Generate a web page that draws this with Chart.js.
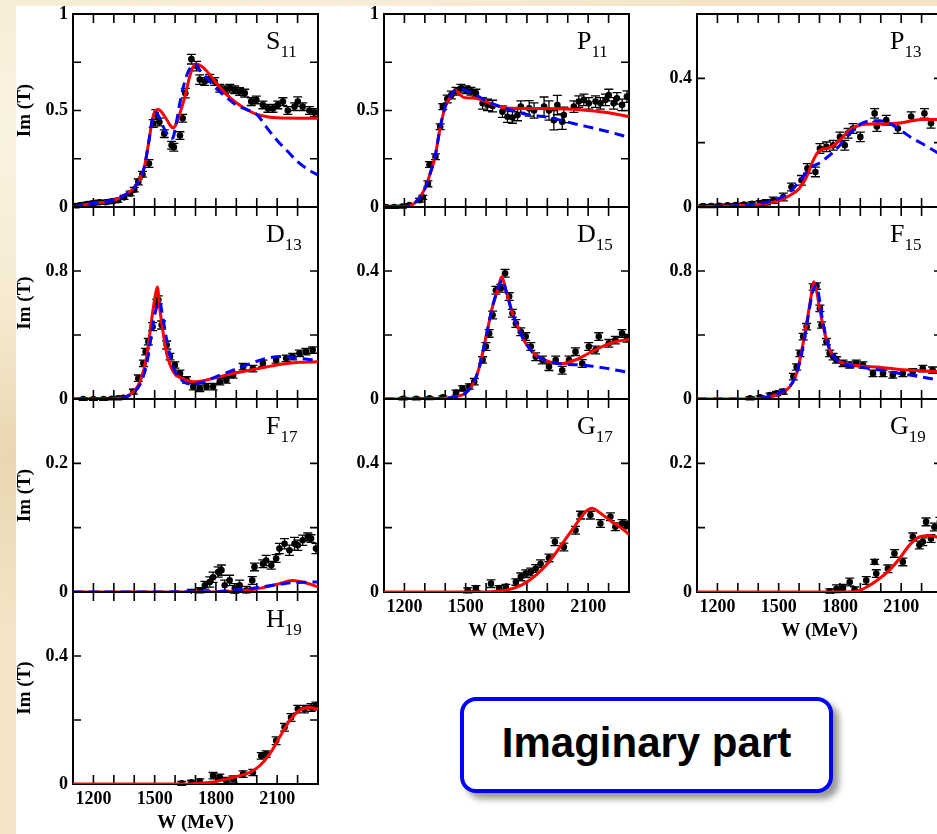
<!DOCTYPE html>
<html>
<head>
<meta charset="utf-8">
<script src="https://cdn.jsdelivr.net/npm/chart.js@4.4.1/dist/chart.umd.min.js"></script>
<style>
  html, body { margin: 0; padding: 0; }
  body {
    width: 937px; height: 834px; overflow: hidden; position: relative;
    background:
      radial-gradient(ellipse at 0% 15%, #fbf3e2 0, rgba(251,243,226,0) 30%),
      radial-gradient(ellipse at 2% 55%, #ead7b2 0, rgba(234,215,178,0) 25%),
      radial-gradient(ellipse at 40% 0%, #f8eddb 0, rgba(248,237,219,0) 40%),
      #f2e4c5;
  }
  #sheet { position: absolute; left: 16px; top: 6px; right: 0; bottom: 0; background: #fff; }
  canvas { position: absolute; }
  #tag {
    position: absolute; left: 460px; top: 697px; width: 373px; height: 96px;
    box-sizing: border-box; border: 4px solid #0000ff; border-radius: 16px;
    background: #fff; box-shadow: 6px 6px 6px rgba(0,0,0,0.4);
    display: flex; align-items: center; justify-content: center; padding-bottom: 5px;
    font: bold 42px "Liberation Sans", Arial, sans-serif; color: #000;
  }
</style>
</head>
<body>
<div id="sheet"></div>
<div id="tag">Imaginary part</div>
<script>
// ---- data (W in MeV, Im T) ----
const s11W = [1110,1140,1170,1200,1230,1260,1290,1320,1350,1380,1400,1420,1440,1472,1493,1506,1523,1547,1583,1594,1624,1637,1650,1680,1705,1721,1745,1770,1794,1819,1843,1868,1892,1916,1941,1973,1998,2030,2055,2079,2103,2128,2152,2185,2201,2225,2258,2282];
const s11V = [0.005,0.01,0.015,0.02,0.025,0.025,0.03,0.035,0.05,0.07,0.09,0.13,0.17,0.225,0.433,0.48,0.44,0.38,0.32,0.31,0.37,0.46,0.59,0.766,0.73,0.66,0.65,0.667,0.65,0.615,0.607,0.615,0.607,0.598,0.59,0.546,0.555,0.529,0.511,0.511,0.529,0.546,0.50,0.52,0.546,0.52,0.50,0.49];
const s11E = [0.01,0.01,0.01,0.01,0.01,0.01,0.01,0.01,0.01,0.012,0.012,0.015,0.015,0.02,0.02,0.025,0.02,0.02,0.02,0.02,0.02,0.02,0.025,0.025,0.025,0.025,0.02,0.02,0.02,0.02,0.02,0.02,0.02,0.02,0.02,0.02,0.02,0.02,0.02,0.02,0.02,0.02,0.02,0.02,0.025,0.02,0.02,0.02];
const s11RedW = [1100,1150,1200,1250,1300,1350,1400,1430,1450,1470,1490,1505,1518,1535,1555,1575,1590,1605,1625,1650,1670,1685,1700,1720,1750,1800,1850,1900,1950,2000,2050,2100,2200,2300];
const s11RedV = [0,0.01,0.02,0.025,0.035,0.06,0.10,0.15,0.21,0.33,0.46,0.50,0.505,0.49,0.46,0.425,0.41,0.43,0.49,0.58,0.67,0.72,0.74,0.735,0.71,0.645,0.585,0.54,0.505,0.48,0.468,0.462,0.46,0.46];
const s11BlueW = [1100,1150,1200,1250,1300,1350,1400,1430,1450,1470,1490,1505,1520,1540,1560,1580,1590,1605,1620,1640,1660,1680,1700,1720,1750,1800,1850,1900,1950,2000,2050,2100,2150,2200,2250,2300];
const s11BlueV = [0,0.01,0.02,0.025,0.035,0.06,0.10,0.15,0.21,0.33,0.46,0.49,0.47,0.42,0.38,0.355,0.36,0.43,0.52,0.62,0.69,0.73,0.74,0.71,0.675,0.615,0.57,0.528,0.505,0.48,0.41,0.345,0.29,0.235,0.195,0.165];

const p11W = [1110,1150,1190,1225,1274,1290,1315,1323,1352,1375,1388,1410,1430,1453,1477,1502,1526,1550,1583,1607,1632,1680,1705,1729,1754,1770,1811,1835,1884,1908,1932,1949,1973,1981,2030,2054,2079,2103,2136,2160,2185,2201,2225,2241,2266,2290];
const p11V = [0,0,0.002,0.01,0.035,0.05,0.12,0.22,0.26,0.416,0.52,0.56,0.58,0.60,0.615,0.607,0.60,0.59,0.537,0.529,0.523,0.494,0.468,0.464,0.477,0.52,0.511,0.50,0.52,0.50,0.45,0.528,0.442,0.477,0.52,0.546,0.555,0.537,0.546,0.537,0.555,0.58,0.537,0.563,0.529,0.572];
const p11E = [0.008,0.008,0.008,0.008,0.01,0.01,0.015,0.015,0.015,0.015,0.015,0.02,0.02,0.02,0.02,0.02,0.02,0.02,0.03,0.03,0.03,0.03,0.03,0.03,0.03,0.03,0.04,0.04,0.05,0.05,0.05,0.05,0.04,0.04,0.03,0.03,0.03,0.03,0.03,0.03,0.03,0.03,0.03,0.03,0.03,0.03];
const p11RedW = [1100,1200,1250,1300,1325,1350,1375,1400,1425,1450,1470,1490,1550,1600,1650,1700,1800,1900,2000,2100,2200,2300];
const p11RedV = [0,0,0.02,0.095,0.17,0.26,0.41,0.52,0.57,0.605,0.585,0.568,0.563,0.546,0.525,0.513,0.511,0.511,0.508,0.50,0.488,0.468];
const p11BlueW = [1100,1200,1250,1300,1325,1350,1375,1400,1425,1450,1480,1520,1560,1600,1700,1800,1900,2000,2100,2200,2300];
const p11BlueV = [0,0,0.02,0.095,0.17,0.26,0.41,0.52,0.575,0.605,0.61,0.595,0.575,0.55,0.51,0.48,0.465,0.44,0.415,0.39,0.36];

const p13W = [1130,1170,1210,1250,1290,1330,1370,1410,1440,1474,1523,1563,1612,1641,1680,1702,1734,1767,1800,1824,1840,1864,1900,1970,1981,2027,2084,2149,2214,2246];
const p13V = [0.003,0.003,0.004,0.005,0.006,0.008,0.01,0.012,0.015,0.021,0.031,0.062,0.083,0.12,0.109,0.182,0.187,0.192,0.218,0.192,0.229,0.244,0.218,0.291,0.25,0.27,0.244,0.281,0.291,0.26];
const p13E = [0.005,0.005,0.005,0.005,0.005,0.005,0.006,0.008,0.008,0.01,0.012,0.012,0.015,0.015,0.015,0.015,0.015,0.015,0.015,0.015,0.015,0.015,0.015,0.015,0.015,0.015,0.015,0.015,0.015,0.015];
const p13RedW = [1100,1200,1300,1400,1500,1555,1600,1637,1670,1700,1734,1767,1800,1848,1900,1960,2000,2100,2200,2300];
const p13RedV = [0,0.002,0.004,0.008,0.02,0.036,0.057,0.094,0.146,0.175,0.182,0.19,0.208,0.239,0.255,0.258,0.258,0.262,0.272,0.272];
const p13BlueW = [1100,1200,1300,1400,1500,1555,1600,1653,1700,1750,1800,1848,1900,1960,2000,2043,2100,2157,2200,2270,2300];
const p13BlueV = [0,0.002,0.004,0.01,0.026,0.047,0.078,0.12,0.137,0.161,0.192,0.229,0.258,0.268,0.268,0.26,0.237,0.213,0.198,0.172,0.16];

const d13W = [1150,1200,1250,1290,1320,1347,1396,1420,1445,1456,1469,1490,1510,1518,1534,1559,1575,1599,1624,1656,1689,1721,1754,1786,1819,1851,1884,1933,1981,2030,2095,2144,2176,2209,2241,2274];
const d13V = [0,0,0,0.002,0.005,0.008,0.046,0.13,0.223,0.296,0.358,0.452,0.598,0.62,0.4625,0.3375,0.265,0.2125,0.16,0.119,0.077,0.067,0.077,0.077,0.108,0.119,0.15,0.202,0.19,0.223,0.244,0.254,0.265,0.285,0.296,0.306];
const d13E = [0.008,0.008,0.008,0.008,0.01,0.01,0.015,0.02,0.02,0.02,0.02,0.025,0.025,0.025,0.025,0.025,0.02,0.02,0.02,0.02,0.02,0.02,0.02,0.02,0.02,0.02,0.02,0.02,0.02,0.02,0.02,0.02,0.02,0.02,0.02,0.02];
const d13RedW = [1100,1250,1300,1347,1396,1428,1461,1485,1502,1513,1526,1542,1559,1591,1632,1689,1754,1819,1884,1965,2046,2128,2209,2300];
const d13RedV = [0,0,0.002,0.008,0.046,0.108,0.265,0.494,0.64,0.70,0.556,0.41,0.285,0.17,0.129,0.108,0.119,0.14,0.16,0.18,0.20,0.219,0.229,0.233];
const d13BlueW = [1100,1250,1300,1347,1396,1428,1461,1485,1502,1523,1542,1559,1591,1632,1672,1721,1802,1884,1965,2046,2128,2209,2300];
const d13BlueV = [0,0,0.002,0.008,0.04,0.09,0.22,0.41,0.535,0.61,0.494,0.369,0.2,0.119,0.094,0.10,0.14,0.18,0.219,0.254,0.265,0.254,0.24];

const d15W = [1193,1258,1323,1388,1453,1485,1518,1542,1583,1599,1615,1632,1648,1672,1693,1713,1729,1746,1770,1794,1819,1843,1876,1908,1941,1973,2006,2038,2071,2103,2136,2152,2201,2233,2266,2290];
const d15V = [0.001,0.001,0.002,0.005,0.02,0.033,0.039,0.054,0.122,0.164,0.205,0.2625,0.34,0.346,0.393,0.32,0.268,0.236,0.21,0.195,0.164,0.132,0.122,0.101,0.122,0.09,0.122,0.148,0.111,0.164,0.153,0.195,0.174,0.184,0.205,0.19];
const d15E = [0.004,0.004,0.004,0.005,0.008,0.008,0.008,0.01,0.01,0.012,0.012,0.012,0.012,0.012,0.012,0.012,0.012,0.012,0.012,0.012,0.012,0.012,0.012,0.012,0.012,0.012,0.012,0.012,0.012,0.012,0.012,0.012,0.012,0.012,0.012,0.012];
const d15RedW = [1100,1300,1400,1453,1502,1534,1567,1600,1632,1656,1677,1697,1729,1762,1794,1843,1908,1973,2038,2103,2168,2233,2300];
const d15RedV = [0,0,0.002,0.007,0.02,0.044,0.10,0.195,0.29,0.34,0.382,0.34,0.268,0.216,0.174,0.1375,0.117,0.111,0.122,0.143,0.164,0.179,0.186];
const d15BlueW = [1100,1300,1400,1453,1502,1534,1567,1600,1632,1656,1680,1697,1729,1762,1794,1843,1908,1973,2071,2168,2300];
const d15BlueV = [0,0,0.002,0.007,0.02,0.044,0.10,0.195,0.29,0.34,0.372,0.34,0.268,0.216,0.174,0.1375,0.117,0.109,0.106,0.098,0.083];

const f15W = [1360,1409,1458,1490,1523,1572,1588,1604,1620,1637,1669,1685,1702,1710,1734,1750,1767,1783,1815,1848,1880,1913,1962,2011,2059,2108,2157,2206,2254];
const f15V = [0.005,0.01,0.025,0.035,0.046,0.14,0.2,0.285,0.39,0.452,0.70,0.706,0.567,0.4625,0.358,0.285,0.265,0.244,0.223,0.2125,0.223,0.2125,0.16,0.16,0.15,0.16,0.17,0.19,0.18];
const f15E = [0.01,0.01,0.012,0.012,0.015,0.02,0.02,0.02,0.02,0.02,0.02,0.02,0.02,0.02,0.02,0.02,0.02,0.02,0.02,0.02,0.02,0.02,0.02,0.02,0.02,0.02,0.02,0.02,0.02];
const f15RedW = [1100,1350,1441,1506,1555,1588,1620,1645,1661,1672,1685,1702,1726,1750,1783,1832,1897,1994,2092,2189,2300];
const f15RedV = [0,0,0.01,0.035,0.077,0.16,0.348,0.535,0.66,0.733,0.68,0.556,0.41,0.306,0.244,0.219,0.208,0.198,0.185,0.177,0.17];
const f15BlueW = [1100,1350,1441,1506,1555,1588,1620,1645,1665,1682,1695,1710,1730,1750,1783,1832,1897,1994,2092,2189,2300];
const f15BlueV = [0,0,0.012,0.04,0.08,0.16,0.33,0.52,0.66,0.71,0.66,0.53,0.40,0.31,0.245,0.215,0.2,0.181,0.16,0.14,0.115];

const f17W = [1680,1721,1746,1770,1786,1811,1827,1843,1867,1892,1916,1949,1978,1989,2030,2046,2071,2095,2111,2136,2160,2185,2201,2225,2250,2266,2290];
const f17V = [0,0.0026,0.0104,0.0156,0.023,0.031,0.034,0.0104,0.018,0.005,0.0104,0.0026,0.018,0.039,0.044,0.049,0.0416,0.052,0.0675,0.075,0.065,0.075,0.0727,0.0805,0.0857,0.083,0.0675];
const f17E = [0.004,0.004,0.006,0.008,0.008,0.008,0.008,0.008,0.008,0.008,0.008,0.006,0.006,0.006,0.006,0.008,0.006,0.006,0.008,0.008,0.008,0.01,0.008,0.008,0.006,0.006,0.008];
const f17RedW = [1100,1850,1884,1981,2046,2111,2176,2225,2300];
const f17RedV = [0,0,0.001,0.004,0.008,0.013,0.018,0.0156,0.008];
const f17BlueW = [1100,1802,1884,1981,2079,2176,2300];
const f17BlueV = [0,0.0005,0.0026,0.006,0.0104,0.0145,0.0156];

const g17W = [1510,1550,1624,1664,1697,1746,1770,1794,1819,1843,1867,1908,1937,1981,2038,2063,2111,2160,2209,2233,2266,2290];
const g17V = [0.005,0.012,0.026,0.012,0.016,0.031,0.047,0.057,0.062,0.073,0.088,0.106,0.156,0.14,0.192,0.239,0.239,0.213,0.234,0.2026,0.213,0.208];
const g17E = [0.008,0.008,0.012,0.008,0.008,0.01,0.012,0.012,0.012,0.012,0.012,0.012,0.012,0.012,0.012,0.012,0.012,0.012,0.012,0.012,0.012,0.012];
const g17RedW = [1100,1600,1648,1713,1778,1843,1908,1973,2038,2087,2120,2152,2217,2266,2300];
const g17RedV = [0,0,0.002,0.008,0.023,0.052,0.0935,0.15,0.208,0.249,0.26,0.249,0.218,0.197,0.179];

const g19W = [1750,1783,1815,1848,1872,1929,1970,1978,2035,2067,2108,2157,2189,2206,2222,2246,2263,2290];
const g19V = [0.001,0.005,0.006,0.0156,0.004,0.018,0.0468,0.0286,0.036,0.06,0.0468,0.0857,0.073,0.078,0.109,0.083,0.101,0.11];
const g19E = [0.004,0.006,0.006,0.006,0.004,0.006,0.004,0.006,0.006,0.006,0.006,0.006,0.006,0.006,0.006,0.006,0.006,0.006];
const g19RedW = [1100,1832,1897,1946,1994,2043,2092,2141,2189,2238,2270,2300];
const g19RedV = [0,0,0.0026,0.0104,0.021,0.034,0.052,0.073,0.0857,0.088,0.086,0.083];

const h19W = [1632,1680,1721,1786,1819,1851,1884,1933,1981,2022,2046,2095,2136,2168,2201,2233,2266,2290];
const h19V = [0.002,0.005,0.008,0.026,0.021,0.0104,0.0156,0.031,0.036,0.088,0.0935,0.135,0.177,0.208,0.234,0.234,0.239,0.244];
const h19E = [0.006,0.006,0.008,0.01,0.01,0.01,0.01,0.01,0.01,0.01,0.01,0.012,0.012,0.012,0.012,0.012,0.012,0.012];
const h19RedW = [1100,1680,1721,1802,1884,1965,2014,2063,2111,2160,2209,2258,2300];
const h19RedV = [0,0,0.002,0.008,0.021,0.036,0.057,0.0935,0.145,0.197,0.23,0.239,0.234];

// ---- layout of the 4x3 grid ----
const colLeft = [73, 384, 697];
const rowTop = [14, 207, 399, 592];
const rowBottom = [207, 399, 592, 784];
const plotWidth = 245;

function toPoints(ws, vs, es) {
  return ws.map((w, i) => ({ x: w, y: vs[i], e: es ? es[i] : 0 }));
}

const panels = [
  { label: "S", sub: "11", col: 0, row: 0, yMax: 1, yStep: 0.25, pts: [s11W, s11V, s11E], red: [s11RedW, s11RedV], blue: [s11BlueW, s11BlueV] },
  { label: "P", sub: "11", col: 1, row: 0, yMax: 1, yStep: 0.25, pts: [p11W, p11V, p11E], red: [p11RedW, p11RedV], blue: [p11BlueW, p11BlueV] },
  { label: "P", sub: "13", col: 2, row: 0, yMax: 0.6, yStep: 0.2, pts: [p13W, p13V, p13E], red: [p13RedW, p13RedV], blue: [p13BlueW, p13BlueV] },
  { label: "D", sub: "13", col: 0, row: 1, yMax: 1.2, yStep: 0.4, pts: [d13W, d13V, d13E], red: [d13RedW, d13RedV], blue: [d13BlueW, d13BlueV] },
  { label: "D", sub: "15", col: 1, row: 1, yMax: 0.6, yStep: 0.2, pts: [d15W, d15V, d15E], red: [d15RedW, d15RedV], blue: [d15BlueW, d15BlueV] },
  { label: "F", sub: "15", col: 2, row: 1, yMax: 1.2, yStep: 0.4, pts: [f15W, f15V, f15E], red: [f15RedW, f15RedV], blue: [f15BlueW, f15BlueV] },
  { label: "F", sub: "17", col: 0, row: 2, yMax: 0.3, yStep: 0.1, pts: [f17W, f17V, f17E], red: [f17RedW, f17RedV], blue: [f17BlueW, f17BlueV] },
  { label: "G", sub: "17", col: 1, row: 2, yMax: 0.6, yStep: 0.2, pts: [g17W, g17V, g17E], red: [g17RedW, g17RedV], xLabels: true },
  { label: "G", sub: "19", col: 2, row: 2, yMax: 0.3, yStep: 0.1, pts: [g19W, g19V, g19E], red: [g19RedW, g19RedV], xLabels: true },
  { label: "H", sub: "19", col: 0, row: 3, yMax: 0.6, yStep: 0.2, pts: [h19W, h19V, h19E], red: [h19RedW, h19RedV], xLabels: true }
];

Chart.defaults.font.family = '"Liberation Serif", "Times New Roman", serif';
Chart.defaults.color = "#000";

// frame, inward ticks on four sides, error bars, panel name
const panelPlugin = {
  id: "panel",
  beforeDatasetsDraw(chart, args, opts) {
    const { ctx, chartArea: a, scales: { x, y } } = chart;
    ctx.save();
    ctx.strokeStyle = "#000";
    ctx.lineWidth = 2;
    ctx.strokeRect(a.left, a.top, a.right - a.left, a.bottom - a.top);
    ctx.lineWidth = 1.6;
    ctx.beginPath();
    x.ticks.forEach(t => {
      const px = x.getPixelForValue(t.value);
      ctx.moveTo(px, a.bottom); ctx.lineTo(px, a.bottom - 9);
      ctx.moveTo(px, a.top); ctx.lineTo(px, a.top + 9);
    });
    y.ticks.forEach(t => {
      const py = y.getPixelForValue(t.value);
      ctx.moveTo(a.left, py); ctx.lineTo(a.left + 8, py);
      ctx.moveTo(a.right, py); ctx.lineTo(a.right - 8, py);
    });
    ctx.stroke();

    // error bars under the dots
    ctx.beginPath();
    ctx.rect(a.left, a.top - 2, a.right - a.left, a.bottom - a.top + 4);
    ctx.clip();
    ctx.lineWidth = 1.3;
    ctx.beginPath();
    chart.data.datasets.forEach(ds => {
      if (ds.type !== "scatter") return;
      ds.data.forEach(p => {
        const px = x.getPixelForValue(p.x);
        const lo = y.getPixelForValue(p.y - p.e);
        const hi = y.getPixelForValue(p.y + p.e);
        ctx.moveTo(px, lo); ctx.lineTo(px, hi);
        ctx.moveTo(px - 4.5, lo); ctx.lineTo(px + 4.5, lo);
        ctx.moveTo(px - 4.5, hi); ctx.lineTo(px + 4.5, hi);
      });
    });
    ctx.stroke();
    ctx.restore();
  },
  afterDraw(chart, args, opts) {
    const { ctx, chartArea: a } = chart;
    ctx.save();
    ctx.fillStyle = "#000";
    ctx.textBaseline = "alphabetic";
    ctx.font = '26px "Liberation Serif"';
    const x0 = a.right - 52, y0 = a.top + 35;
    ctx.fillText(opts.label, x0, y0);
    const w = ctx.measureText(opts.label).width;
    ctx.font = '17px "Liberation Serif"';
    ctx.fillText(opts.sub, x0 + w, y0 + 8);
    ctx.restore();
  }
};

function fmt(v) {
  return String(Number(v.toFixed(2)));
}

panels.forEach(p => {
  const L = p.col === 0 ? 73 : 60;
  const T = 12, R = 6;
  const B = p.xLabels ? 50 : 12;
  const h = rowBottom[p.row] - rowTop[p.row];
  const cv = document.createElement("canvas");
  cv.width = L + plotWidth + R;
  cv.height = T + h + B;
  cv.style.left = (colLeft[p.col] - L) + "px";
  cv.style.top = (rowTop[p.row] - T) + "px";
  document.body.appendChild(cv);

  const datasets = [];
  if (p.blue) {
    datasets.push({
      type: "line", data: toPoints(p.blue[0], p.blue[1]),
      borderColor: "#0000ff", borderWidth: 3, borderDash: [10, 6],
      pointRadius: 0, cubicInterpolationMode: "monotone", fill: false, order: 0
    });
  }
  datasets.push({
    type: "line", data: toPoints(p.red[0], p.red[1]),
    borderColor: "#ff0000", borderWidth: 3,
    pointRadius: 0, cubicInterpolationMode: "monotone", fill: false, order: 1
  });
  datasets.push({
    type: "scatter", data: toPoints(p.pts[0], p.pts[1], p.pts[2]),
    backgroundColor: "#000", borderColor: "#000", pointRadius: 3.3, borderWidth: 0, order: 2
  });

  new Chart(cv, {
    type: "line",
    data: { datasets },
    options: {
      responsive: false,
      animation: false,
      events: [],
      layout: { padding: { top: T, right: R, left: 0, bottom: 0 } },
      plugins: {
        legend: { display: false },
        tooltip: { enabled: false },
        panel: { label: p.label, sub: p.sub }
      },
      scales: {
        x: {
          type: "linear", min: 1100, max: 2300,
          grid: { display: false, drawTicks: false },
          border: { display: false },
          ticks: {
            stepSize: 100, autoSkip: false, maxRotation: 0, padding: 5,
            display: !!p.xLabels,
            font: { size: 18, weight: "bold" },
            callback: v => (v >= 1200 && v <= 2100 && (v - 1200) % 300 === 0) ? String(v) : ""
          },
          title: {
            display: !!p.xLabels, text: "W (MeV)",
            font: { size: 19, weight: "bold" }, padding: { top: 0, bottom: 0 }
          },
          afterFit(s) { s.height = B; s.paddingLeft = 0; s.paddingRight = 0; }
        },
        y: {
          type: "linear", min: 0, max: p.yMax,
          grid: { display: false, drawTicks: false },
          border: { display: false },
          ticks: {
            stepSize: p.yStep, autoSkip: false, padding: 5,
            font: { size: 18, weight: "bold" },
            callback: (v, i) => (i % 2 === 0 ? fmt(v) : "")
          },
          title: {
            display: p.col === 0, text: "Im (T)",
            font: { size: 19, weight: "bold" }, padding: { top: 14, bottom: 0 }
          },
          afterFit(s) { s.width = L; s.paddingTop = 0; s.paddingBottom = 0; }
        }
      }
    },
    plugins: [panelPlugin]
  });
});
</script>
</body>
</html>
